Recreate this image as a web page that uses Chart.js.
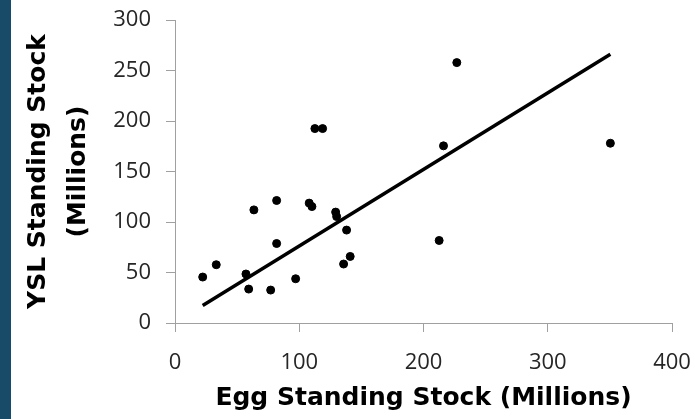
<!DOCTYPE html>
<html>
<head>
<meta charset="utf-8">
<script src="https://cdn.jsdelivr.net/npm/chart.js@4"></script>
<style>
  html, body { margin: 0; padding: 0; background: #fff; }
  #wrap { position: relative; width: 695px; height: 419px; }
  #strip { position: absolute; left: 0; top: 0; width: 11px; height: 419px; background: #174b68; }
  #scatter { position: absolute; left: 0; top: 0; }
</style>
</head>
<body>
<div id="wrap">
  <canvas id="scatter" width="695" height="419"></canvas>
  <div id="strip"></div>
</div>
<script>
// egg vs yolk-sac larvae standing stock, millions
const eggStock = [22.3, 33.2, 57.1, 59.3, 63.5, 77.0, 81.8, 81.8, 97.1, 108.0, 110.2,
  112.6, 118.8, 129.3, 130.1, 135.7, 138.1, 141.0, 212.6, 216.1, 226.8, 350.4];
const yslStock = [45.5, 57.7, 48.5, 33.6, 112, 32.6, 121.3, 78.7, 43.8, 118.7, 115.3,
  192.5, 192.5, 109.8, 105.4, 58.4, 92, 65.9, 81.7, 175.4, 257.8, 178];

// fitted line end points
const trendX = [22.3, 350.4];
const trendY = [17.4, 266.1];

const xTicks = [0, 100, 200, 300, 400];
const yTicks = [0, 50, 100, 150, 200, 250, 300];

const axisGray = '#a0a0a0';
const tickFont = { family: 'Open Sans', size: 22 };
const titleFont = { family: 'DejaVu Sans', size: 25, weight: 'bold', lineHeight: 1.62 };

document.addEventListener('DOMContentLoaded', function() {

const ctx = document.getElementById('scatter').getContext('2d');
const chart = new Chart(ctx, {
  type: 'scatter',
  data: {
    datasets: [{
      label: 'YSL',
      data: eggStock.map((x, i) => ({ x: x, y: yslStock[i] })),
      backgroundColor: '#000',
      borderColor: '#000',
      pointRadius: 4,
      pointHoverRadius: 4
    }, {
      label: 'Fit',
      type: 'line',
      data: trendX.map((x, i) => ({ x: x, y: trendY[i] })),
      borderColor: '#000',
      borderWidth: 3.5,
      pointRadius: 0,
      fill: false
    }]
  },
  options: {
    responsive: false,
    animation: false,
    events: [],
    layout: { padding: { left: 0, top: 20, right: 23, bottom: 0 } },
    plugins: { legend: { display: false }, tooltip: { enabled: false } },
    scales: {
      x: {
        type: 'linear',
        min: 0,
        max: 400,
        afterBuildTicks: s => { s.ticks = xTicks.map(v => ({ value: v })); },
        afterFit: s => { s.height = 96; s.paddingLeft = 0; s.paddingRight = 0; },
        grid: { display: true, drawOnChartArea: false, drawTicks: true, tickLength: 9, color: axisGray },
        border: { display: true, color: axisGray, width: 1 },
        ticks: { font: tickFont, color: '#262626', padding: 18, maxRotation: 0 },
        title: { display: true, text: 'Egg Standing Stock (Millions)', font: titleFont, color: '#000', padding: { top: 0, bottom: 0 } }
      },
      y: {
        type: 'linear',
        min: 0,
        max: 300,
        afterBuildTicks: s => { s.ticks = yTicks.map(v => ({ value: v })); },
        afterFit: s => { s.width = 175; s.paddingTop = 0; s.paddingBottom = 0; },
        grid: { display: true, drawOnChartArea: false, drawTicks: true, tickLength: 9, color: axisGray },
        border: { display: true, color: axisGray, width: 1 },
        ticks: { font: tickFont, color: '#262626', padding: 15 },
        title: { display: true, text: ['YSL Standing Stock', '(Millions)'], font: titleFont, color: '#000', padding: { top: 18, bottom: 0 } }
      }
    }
  }
});

});
</script>
</body>
</html>
